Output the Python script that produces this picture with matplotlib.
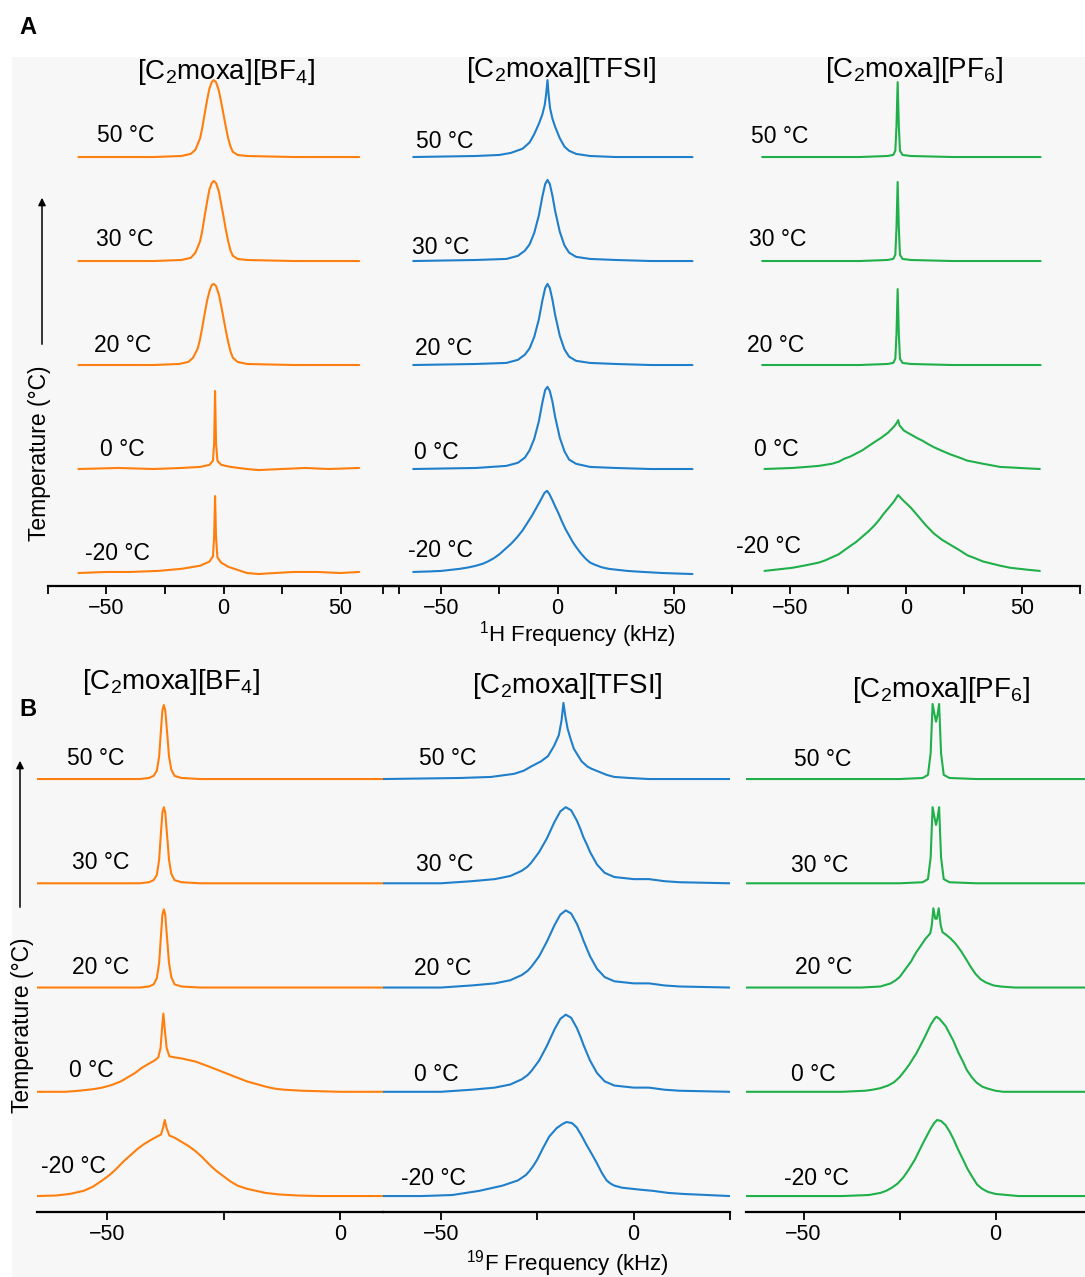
import matplotlib
matplotlib.use("Agg")
import matplotlib.pyplot as plt
from matplotlib.patches import Rectangle, FancyArrowPatch

plt.rcParams["font.family"] = ["Liberation Sans", "DejaVu Sans"]
plt.rcParams["mathtext.fontset"] = "custom"
plt.rcParams["mathtext.rm"] = "Liberation Sans"
plt.rcParams["mathtext.it"] = "Liberation Sans:italic"
plt.rcParams["mathtext.bf"] = "Liberation Sans:bold"

# temperatures, top to bottom
temps = [50, 30, 20, 0, -20]

salts = [r"[C$_2$moxa][BF$_4$]", r"[C$_2$moxa][TFSI]", r"[C$_2$moxa][PF$_6$]"]
colors = ["#ff7f0e", "#1f7fcb", "#20b04a"]

# 1H spectra (kHz, intensity) for each temperature
h_bf4 = [
    [(-62, 0), (-30, 0), (-18, 0.01), (-14, 0.03), (-12, 0.07), (-10, 0.18), (-9, 0.29), (-8, 0.42),
     (-7, 0.55), (-6, 0.66), (-5, 0.72), (-4.2, 0.74), (-3.2, 0.72), (-2, 0.64), (-1, 0.53), (0, 0.41),
     (1, 0.29), (2, 0.18), (3, 0.1), (4, 0.05), (6, 0.02), (10, 0.01), (30, 0), (58, 0)],
    [(-62, 0), (-30, 0), (-18, 0.01), (-14, 0.03), (-12, 0.08), (-10, 0.19), (-9, 0.3), (-8, 0.44),
     (-7, 0.57), (-6, 0.69), (-5, 0.75), (-4.2, 0.77), (-3.2, 0.75), (-2, 0.67), (-1, 0.55), (0, 0.43),
     (1, 0.3), (2, 0.19), (3, 0.1), (4, 0.05), (6, 0.02), (10, 0.01), (30, 0), (58, 0)],
    [(-62, 0), (-30, 0), (-19, 0.01), (-15, 0.03), (-13, 0.07), (-11, 0.16), (-10, 0.25), (-9, 0.37),
     (-8, 0.5), (-7, 0.62), (-6, 0.71), (-5, 0.77), (-4.2, 0.78), (-3.2, 0.76), (-2, 0.68), (-1, 0.57),
     (0, 0.45), (1, 0.33), (2, 0.22), (3, 0.13), (4, 0.07), (6, 0.03), (10, 0.01), (30, 0), (58, 0)],
    [(-62, 0), (-45, 0.01), (-30, 0), (-18, 0.01), (-10, 0.02), (-6, 0.04), (-4.5, 0.08), (-4, 0.25),
     (-3.6, 0.75), (-3.2, 0.25), (-2.6, 0.08), (-1, 0.04), (3, 0.02), (10, 0.0), (15, -0.01), (25, 0.0),
     (35, 0.01), (45, 0.0), (58, 0.01)],
    [(-62, 0), (-50, 0.01), (-40, 0.01), (-28, 0.02), (-18, 0.04), (-10, 0.07), (-6, 0.11), (-4.5, 0.16),
     (-4, 0.35), (-3.6, 0.74), (-3.2, 0.35), (-2.6, 0.15), (-1, 0.1), (2, 0.06), (6, 0.03), (10, 0.0),
     (15, -0.01), (22, 0.0), (30, 0.01), (40, 0.01), (50, 0.0), (58, 0.01)],
]

h_tfsi = [
    [(-62, 0), (-35, 0.01), (-25, 0.02), (-20, 0.04), (-15, 0.08), (-12, 0.14), (-10, 0.22), (-8, 0.32),
     (-6.5, 0.41), (-5.5, 0.5), (-4.9, 0.6), (-4.3, 0.74), (-3.8, 0.6), (-3.2, 0.47), (-2.2, 0.37),
     (-1, 0.29), (1, 0.18), (3, 0.1), (5, 0.06), (8, 0.03), (14, 0.01), (25, 0), (58, 0)],
    [(-62, 0), (-35, 0.01), (-22, 0.02), (-17, 0.05), (-14, 0.1), (-12, 0.16), (-10, 0.27), (-8, 0.44),
     (-6.5, 0.62), (-5.3, 0.74), (-4.3, 0.78), (-3.3, 0.74), (-2.2, 0.63), (-1, 0.48), (1, 0.28),
     (3, 0.15), (5, 0.08), (8, 0.04), (14, 0.02), (25, 0.01), (40, 0), (58, 0)],
    [(-62, 0), (-35, 0.01), (-22, 0.02), (-17, 0.05), (-14, 0.1), (-12, 0.16), (-10, 0.27), (-8, 0.44),
     (-6.5, 0.62), (-5.3, 0.74), (-4.3, 0.78), (-3.3, 0.74), (-2.2, 0.63), (-1, 0.48), (1, 0.28),
     (3, 0.15), (5, 0.08), (8, 0.04), (14, 0.02), (25, 0.01), (40, 0), (58, 0)],
    [(-62, 0), (-35, 0.01), (-22, 0.03), (-17, 0.06), (-14, 0.11), (-12, 0.18), (-10, 0.29), (-8, 0.46),
     (-6.5, 0.64), (-5.3, 0.76), (-4.3, 0.79), (-3.3, 0.75), (-2.2, 0.65), (-1, 0.5), (1, 0.3),
     (3, 0.17), (5, 0.09), (8, 0.05), (14, 0.02), (25, 0.01), (40, 0), (58, 0)],
    [(-62, 0.01), (-55, 0.015), (-50, 0.02), (-46, 0.03), (-42, 0.04), (-38, 0.055), (-35, 0.07),
     (-32, 0.09), (-30, 0.11), (-27.5, 0.14), (-25, 0.18), (-22.5, 0.23), (-20, 0.28), (-17.5, 0.34),
     (-15, 0.41), (-13, 0.48), (-11, 0.55), (-9.5, 0.61), (-8, 0.67), (-6.8, 0.72), (-5.6, 0.77),
     (-4.5, 0.79), (-3.5, 0.76), (-2.2, 0.7), (-1, 0.64), (0.5, 0.57), (2, 0.49), (3.5, 0.42),
     (5, 0.36), (6.5, 0.3), (8, 0.25), (10, 0.19), (12, 0.14), (14, 0.1), (16, 0.08), (19, 0.055),
     (22, 0.04), (26, 0.03), (30, 0.02), (37, 0.01), (45, 0.0), (58, -0.01)],
]

h_pf6 = [
    [(-62, 0), (-20, 0), (-8, 0.01), (-5.5, 0.02), (-4.6, 0.06), (-4.1, 0.3), (-3.6, 0.72), (-3.1, 0.3),
     (-2.6, 0.06), (-1.5, 0.02), (2, 0.01), (20, 0), (58, 0)],
    [(-62, 0), (-20, 0), (-8, 0.01), (-5.5, 0.02), (-4.6, 0.06), (-4.1, 0.32), (-3.6, 0.76), (-3.1, 0.32),
     (-2.6, 0.06), (-1.5, 0.02), (2, 0.01), (20, 0), (58, 0)],
    [(-62, 0), (-20, 0), (-8, 0.01), (-5.5, 0.02), (-4.6, 0.06), (-4.1, 0.3), (-3.6, 0.73), (-3.1, 0.3),
     (-2.6, 0.06), (-1.5, 0.02), (2, 0.01), (20, 0), (58, 0)],
    [(-61, 0.0), (-55, 0.005), (-49, 0.01), (-43, 0.02), (-37.6, 0.03), (-32, 0.05), (-29, 0.07),
     (-26.5, 0.1), (-24, 0.12), (-21.4, 0.15), (-18.8, 0.18), (-16.2, 0.22), (-13.5, 0.26), (-10.7, 0.3),
     (-7.7, 0.35), (-5.1, 0.41), (-3.8, 0.45), (-3.4, 0.47), (-2.8, 0.42), (-0.9, 0.37), (1, 0.345),
     (3, 0.32), (5, 0.295), (7.3, 0.27), (9.5, 0.24), (12, 0.21), (15.5, 0.175), (19.2, 0.14),
     (23, 0.11), (26.5, 0.08), (30, 0.065), (33.3, 0.05), (37, 0.035), (40.6, 0.02), (45, 0.015),
     (49, 0.01), (57.7, 0.0)],
    [(-61, 0.02), (-55, 0.035), (-49, 0.05), (-43, 0.075), (-37.6, 0.1), (-35, 0.12), (-32, 0.15),
     (-29, 0.18), (-26.5, 0.22), (-24, 0.26), (-21.4, 0.3), (-18.8, 0.35), (-16.2, 0.4), (-13.5, 0.46),
     (-11.6, 0.51), (-9.6, 0.57), (-7.7, 0.62), (-5.1, 0.69), (-3.4, 0.75), (-1.3, 0.7), (2, 0.63),
     (5.1, 0.55), (8.5, 0.46), (12, 0.38), (15.5, 0.32), (19.2, 0.27), (23, 0.22), (26.5, 0.17),
     (30, 0.14), (33.3, 0.11), (37, 0.09), (40.6, 0.07), (45, 0.05), (49, 0.04), (53, 0.03),
     (57.7, 0.02)],
]

# 19F spectra (kHz, intensity)
f_bf4 = [
    [(-65, 0), (-50, 0), (-43, 0.0), (-41, 0.01), (-40, 0.03), (-39.3, 0.08), (-38.8, 0.22), (-38.4, 0.48),
     (-38.1, 0.66), (-37.8, 0.71), (-37.5, 0.66), (-37.1, 0.45), (-36.7, 0.22), (-36.2, 0.09),
     (-35.5, 0.03), (-34, 0.01), (-30, 0), (9.2, 0)],
    [(-65, 0), (-50, 0), (-43, 0.0), (-41, 0.01), (-40, 0.03), (-39.3, 0.08), (-38.8, 0.23), (-38.4, 0.5),
     (-38.1, 0.68), (-37.8, 0.73), (-37.5, 0.68), (-37.1, 0.46), (-36.7, 0.23), (-36.2, 0.09),
     (-35.5, 0.03), (-34, 0.01), (-30, 0), (9.2, 0)],
    [(-65, 0), (-50, 0), (-43, 0.0), (-41, 0.01), (-40, 0.03), (-39.3, 0.09), (-38.8, 0.24), (-38.4, 0.51),
     (-38.1, 0.7), (-37.8, 0.75), (-37.5, 0.7), (-37.1, 0.47), (-36.7, 0.24), (-36.2, 0.1),
     (-35.5, 0.03), (-34, 0.01), (-30, 0), (9.2, 0)],
    [(-65, 0), (-59, 0.0), (-56, 0.01), (-53, 0.025), (-51, 0.04), (-49, 0.065), (-47, 0.1), (-45.5, 0.14),
     (-44, 0.18), (-42.5, 0.23), (-41, 0.27), (-39.8, 0.3), (-39, 0.33), (-38.5, 0.42), (-38.2, 0.6),
     (-37.9, 0.75), (-37.6, 0.6), (-37.2, 0.42), (-36.6, 0.34), (-35.5, 0.33), (-34, 0.32), (-32.5, 0.305),
     (-31, 0.29), (-29.5, 0.265), (-28, 0.24), (-26, 0.205), (-24, 0.17), (-22, 0.135), (-20, 0.1),
     (-18, 0.075), (-16, 0.05), (-14, 0.03), (-12, 0.02), (-8, 0.01), (0, 0), (9.2, 0)],
    [(-65, 0), (-61, 0.005), (-58, 0.02), (-55, 0.05), (-53, 0.09), (-51, 0.15), (-49.5, 0.2),
     (-48, 0.26), (-46.5, 0.33), (-45, 0.39), (-43.5, 0.45), (-42, 0.5), (-40.5, 0.54), (-39.3, 0.57),
     (-38.4, 0.59), (-38, 0.65), (-37.6, 0.73), (-37.2, 0.65), (-36.6, 0.58), (-35.5, 0.56), (-34, 0.52),
     (-32.5, 0.48), (-31, 0.43), (-29.5, 0.37), (-28, 0.3), (-26.5, 0.24), (-25, 0.19), (-23.5, 0.14),
     (-22, 0.1), (-20, 0.07), (-18, 0.05), (-16, 0.03), (-13, 0.015), (-9, 0.005), (-4, 0), (9.2, 0)],
]

f_tfsi = [
    [(-65, 0), (-45, 0.01), (-37, 0.02), (-31, 0.05), (-28.5, 0.08), (-26.6, 0.12), (-24, 0.17),
     (-22.2, 0.22), (-20.6, 0.32), (-19.4, 0.42), (-18.7, 0.56), (-18.2, 0.73), (-17.7, 0.6),
     (-17.1, 0.48), (-16.3, 0.38), (-15.5, 0.29), (-14.5, 0.23), (-13.5, 0.17), (-12, 0.12), (-11, 0.1),
     (-9, 0.07), (-7, 0.04), (-5, 0.02), (-1, 0.01), (4, 0.0), (25, 0)],
    [(-65, 0), (-50, 0.0), (-42, 0.02), (-36, 0.04), (-32, 0.07), (-29, 0.12), (-27.5, 0.16),
     (-26.5, 0.2), (-24.5, 0.3), (-22.5, 0.43), (-21.5, 0.51), (-20.5, 0.59), (-19, 0.69), (-17.6, 0.73),
     (-16.2, 0.7), (-14.7, 0.6), (-13.8, 0.52), (-13, 0.44), (-12.1, 0.37), (-11.3, 0.3), (-9.5, 0.18),
     (-7.5, 0.1), (-5, 0.06), (0, 0.04), (4, 0.04), (8, 0.02), (12, 0.01), (25, 0)],
    [(-65, 0), (-50, 0.0), (-42, 0.02), (-36, 0.04), (-32, 0.07), (-29, 0.12), (-27.5, 0.16),
     (-26.5, 0.2), (-24.5, 0.3), (-22.5, 0.44), (-21.5, 0.52), (-20.5, 0.6), (-19, 0.7), (-17.6, 0.74),
     (-16.2, 0.71), (-14.7, 0.61), (-13.8, 0.53), (-13, 0.45), (-12.1, 0.37), (-11.3, 0.3), (-9.5, 0.18),
     (-7.5, 0.1), (-5, 0.06), (0, 0.04), (4, 0.04), (8, 0.02), (12, 0.01), (25, 0)],
    [(-65, 0), (-50, 0.0), (-42, 0.02), (-36, 0.04), (-32, 0.07), (-29, 0.12), (-27.5, 0.16),
     (-26.5, 0.2), (-24.5, 0.3), (-22.5, 0.44), (-21.5, 0.52), (-20.5, 0.6), (-19, 0.7), (-17.6, 0.74),
     (-16.2, 0.71), (-14.7, 0.61), (-13.8, 0.53), (-13, 0.45), (-12.1, 0.37), (-11.3, 0.3), (-9.5, 0.18),
     (-7.5, 0.1), (-5, 0.06), (0, 0.04), (4, 0.04), (8, 0.02), (12, 0.01), (25, 0)],
    [(-65, 0), (-55, 0.0), (-47, 0.01), (-40, 0.05), (-34, 0.1), (-30, 0.15), (-28, 0.2), (-27, 0.24),
     (-26, 0.29), (-25, 0.35), (-23.5, 0.46), (-21.9, 0.57), (-20, 0.65), (-18.5, 0.69), (-17.4, 0.71),
     (-16, 0.7), (-14.8, 0.66), (-13.5, 0.58), (-12.2, 0.49), (-10.8, 0.4), (-9.6, 0.32), (-8.2, 0.22),
     (-7, 0.15), (-6, 0.12), (-5, 0.1), (-3, 0.08), (2, 0.06), (5, 0.05), (9, 0.03), (13, 0.02), (25, 0)],
]

f_pf6 = [
    [(-65, 0), (-25, 0.0), (-19, 0.01), (-17.6, 0.04), (-16.9, 0.25), (-16.4, 0.72), (-15.9, 0.62),
     (-15.5, 0.55), (-15.1, 0.62), (-14.7, 0.72), (-14.2, 0.25), (-13.5, 0.04), (-12, 0.01), (-5, 0),
     (23.3, 0)],
    [(-65, 0), (-25, 0.0), (-19, 0.01), (-17.6, 0.04), (-16.9, 0.25), (-16.4, 0.73), (-15.9, 0.63),
     (-15.5, 0.56), (-15.1, 0.63), (-14.7, 0.73), (-14.2, 0.25), (-13.5, 0.04), (-12, 0.01), (-5, 0),
     (23.3, 0)],
    [(-65, 0), (-35, 0.0), (-30, 0.01), (-27.3, 0.04), (-26, 0.07), (-25, 0.1), (-23.4, 0.18),
     (-22, 0.25), (-20.8, 0.33), (-19.5, 0.4), (-18.2, 0.47), (-17, 0.52), (-16.6, 0.6), (-16.2, 0.76),
     (-15.7, 0.66), (-15.3, 0.66), (-14.8, 0.76), (-14.3, 0.6), (-13.8, 0.53), (-13, 0.51),
     (-11.7, 0.47), (-10.4, 0.42), (-9, 0.35), (-7.8, 0.28), (-6.5, 0.2), (-5.2, 0.13), (-3.9, 0.08),
     (-2.6, 0.05), (-0.5, 0.02), (1.3, 0.01), (5, 0), (23.3, 0)],
    [(-65, 0), (-40, 0.0), (-34, 0.01), (-32, 0.02), (-30, 0.035), (-28, 0.06), (-26.5, 0.09), (-25, 0.14),
     (-23.7, 0.2), (-22.5, 0.26), (-20.6, 0.37), (-18.5, 0.52), (-16.8, 0.65), (-15.9, 0.7), (-15.4, 0.72),
     (-14.6, 0.7), (-13, 0.63), (-12, 0.56), (-11, 0.49), (-9.6, 0.37), (-8.5, 0.29), (-7.5, 0.21),
     (-6.2, 0.14), (-5, 0.09), (-3.5, 0.05), (-2, 0.03), (0, 0.01), (2, 0.0), (23.3, 0)],
    [(-65, 0), (-40, 0), (-33, 0.01), (-30, 0.03), (-28.5, 0.05), (-27, 0.08), (-25.5, 0.12), (-24, 0.18),
     (-22.5, 0.26), (-21, 0.35), (-19, 0.5), (-17, 0.64), (-16, 0.7), (-15.2, 0.73), (-14.2, 0.72),
     (-13, 0.68), (-12, 0.62), (-11, 0.55), (-9.8, 0.45), (-8.6, 0.36), (-7.3, 0.26), (-6, 0.18),
     (-4.8, 0.11), (-3.5, 0.07), (-2, 0.04), (0, 0.02), (3, 0.01), (6, 0), (23.3, 0)],
]

W, H = 1085, 1277
fig = plt.figure(figsize=(W / 100, H / 100), dpi=100)

# light grey backdrop behind both panels
fig.patches.append(Rectangle((12 / W, 0), 1 - 12 / W, 1 - 57 / H, transform=fig.transFigure,
                             facecolor="#f7f7f7", edgecolor="none", zorder=-10))


def px_axes(left, right, top, bottom):
    ax = fig.add_axes([left / W, 1 - bottom / H, (right - left) / W, (bottom - top) / H])
    ax.patch.set_alpha(0)
    for s in ["top", "right", "left"]:
        ax.spines[s].set_visible(False)
    ax.spines["bottom"].set_linewidth(1.6)
    ax.set_yticks([])
    ax.tick_params(axis="x", direction="out", length=6, width=1.3, labelsize=15.5, pad=3)
    return ax


def draw_stack(ax, traces, color, xlim, ylim, ticks, lab_x, lab_dy):
    n = len(temps)
    for i, (t, pts) in enumerate(zip(temps, traces)):
        off = n - 1 - i
        ax.plot([p[0] for p in pts], [p[1] + off for p in pts], color=color, lw=1.5,
                solid_joinstyle="round", solid_capstyle="round")
        ax.text(lab_x[i], off + lab_dy[i] / 104, f"{t} °C", ha="center", va="center", fontsize=16.5)
    ax.set_xlim(*xlim)
    ax.set_ylim(*ylim)
    ax.set_xticks(ticks)
    ax.set_xticklabels(["" if v % 50 else f"{v:d}".replace("-", "\u2212") for v in ticks])


ylim_a = (-0.125, 4.933)
ylim_b = (-0.153, 4.854)
ticks_a = [-75, -50, -25, 0, 25, 50, 75]

# Panel A: 1H
ax = px_axes(48, 399, 60, 586)
draw_stack(ax, h_bf4, colors[0], (-75, 75), ylim_a, ticks_a,
           [-41.9, -42.3, -43.2, -43.2, -45.3], [22, 22, 20, 20, 20])
ax = px_axes(383, 732, 60, 586)
draw_stack(ax, h_tfsi, colors[1], (-75, 75), ylim_a, ticks_a,
           [-48.7, -50.4, -49.1, -52.1, -50.4], [16, 14, 17, 17, 23])
ax = px_axes(732, 1080, 60, 586)
draw_stack(ax, h_pf6, colors[2], (-75, 75), ylim_a, ticks_a,
           [-54.3, -55.1, -56, -56, -59.4], [21, 22, 20, 20, 27])

# Panel B: 19F
ax = px_axes(37, 383, 690, 1212)
draw_stack(ax, f_bf4, colors[0], (-65, 9.2), ylim_b, [-50, -25, 0],
           [-52.5, -51.4, -51.4, -53.3, -57.2], [20, 21, 20, 21, 29])
ax = px_axes(383, 730, 690, 1212)
draw_stack(ax, f_tfsi, colors[1], (-65, 25), ylim_b, [-50, -25, 0, 25],
           [-48.2, -49, -49.5, -51.3, -51.8], [20, 19, 19, 17, 18])
ax = px_axes(746, 1085, 690, 1212)
draw_stack(ax, f_pf6, colors[2], (-65, 23.3), ylim_b, [-50, -25, 0],
           [-45, -45.8, -44.8, -47.4, -46.6], [19, 18, 20, 17, 18])


def ftext(x, y, s, **kw):
    fig.text(x / W, 1 - y / H, s, **kw)


for (x, y), s in zip([(226, 72), (561, 70), (914, 70)], salts):
    ftext(x, y, s, ha="center", va="center", fontsize=20)
for (x, y), s in zip([(171, 682), (567, 686), (941, 690)], salts):
    ftext(x, y, s, ha="center", va="center", fontsize=20)

ftext(577, 635, r"$^{1}$H Frequency (kHz)", ha="center", va="center", fontsize=16)
ftext(567, 1264, r"$^{19}$F Frequency (kHz)", ha="center", va="center", fontsize=16)

ftext(40, 453, "Temperature (°C)", ha="center", va="center", rotation=90, fontsize=16.5)
ftext(22, 1025, "Temperature (°C)", ha="center", va="center", rotation=90, fontsize=16.5)

for x, y0, y1 in [(42, 347, 195), (20, 910, 758)]:
    fig.add_artist(FancyArrowPatch((x / W, 1 - y0 / H), (x / W, 1 - y1 / H), transform=fig.transFigure,
                                   arrowstyle="-|>", mutation_scale=11, lw=1.1, color="black"))

ftext(28, 28, "A", ha="center", va="center", fontsize=17, fontweight="bold")
ftext(28, 709, "B", ha="center", va="center", fontsize=17, fontweight="bold")

fig.savefig("out.png", dpi=100)
